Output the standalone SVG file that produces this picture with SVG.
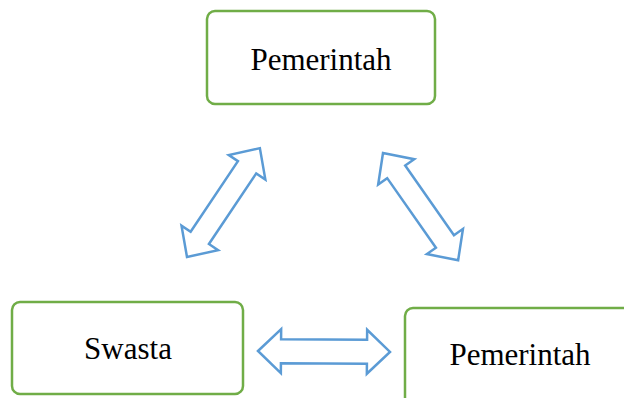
<svg xmlns="http://www.w3.org/2000/svg" width="624" height="398" viewBox="0 0 624 398">
<style>
.box{fill:#fff;stroke:#70AD47;stroke-width:2.5}
.lbl{font-family:"Liberation Serif","Times New Roman",serif;font-size:31px;fill:#000;text-anchor:middle}
.arr{fill:#fff;stroke:#5B9BD5;stroke-width:2.5;stroke-linejoin:miter}
</style>
<rect width="624" height="398" fill="#fff"/>
<g id="node-top">
<rect class="box" x="207" y="11" width="228" height="93" rx="8"/>
<text class="lbl" x="321" y="70">Pemerintah</text>
</g>
<g id="node-swasta">
<rect class="box" x="12" y="302" width="231" height="92" rx="8"/>
<text class="lbl" x="128" y="359">Swasta</text>
</g>
<g id="node-right">
<rect class="box" x="405" y="308" width="240" height="100" rx="8"/>
<text class="lbl" x="520" y="365">Pemerintah</text>
</g>
<g id="connectors">
<path class="arr" transform="translate(187,257) rotate(-56.2)" d="M0,0 L23,-22 L23,-11 L108,-11 L108,-22 L131,0 L108,22 L108,11 L23,11 L23,22 Z"/>
<path class="arr" transform="translate(383,153) rotate(55)" d="M0,0 L23,-22 L23,-11 L108,-11 L108,-22 L131,0 L108,22 L108,11 L23,11 L23,22 Z"/>
<path class="arr" transform="translate(258,351) rotate(0.4)" d="M0,0 L23,-22 L23,-12 L109,-12 L109,-22 L132,0 L109,22 L109,12 L23,12 L23,22 Z"/>
</g>
</svg>
